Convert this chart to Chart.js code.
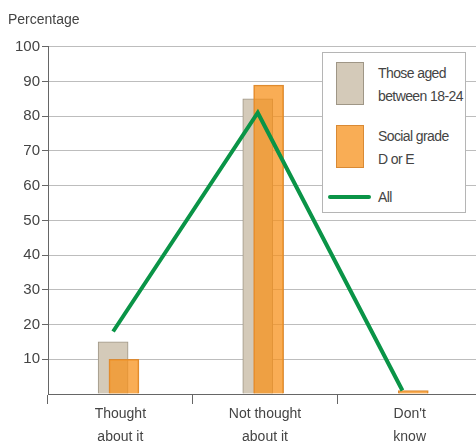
<!DOCTYPE html>
<html>
<head>
<meta charset="utf-8">
<script src="https://cdn.jsdelivr.net/npm/chart.js@4"></script>
<style>
    html, body { margin: 0; padding: 0; background: #fff; overflow: hidden; }
    #wrap { position: relative; width: 482px; height: 448px; }
    #legend {
        position: absolute; left: 322px; top: 52px; width: 144px; height: 161px;
        border: 1px solid #b5b5b5; background: #fff; box-sizing: border-box;
        font-family: 'Liberation Sans Narrow', 'Liberation Sans', sans-serif;
        font-size: 14px; color: #444; line-height: 23px; letter-spacing: -0.6px;
    }
    .item { position: absolute; left: 13px; }
    .swatch { position: absolute; left: 0; top: 0; width: 28px; height: 43px; box-sizing: border-box; }
    .txt { position: absolute; left: 42px; top: 0; white-space: nowrap; }
</style>
</head>
<body>
<div id="wrap">
    <canvas id="chart" width="482" height="448"></canvas>
    <div id="legend"></div>
</div>
<script>
'use strict';

const categories = [['Thought', 'about it'], ['Not thought', 'about it'], ['Don\'t', 'know']];
const aged1824 = [15, 85, 0];
const gradeDE = [10, 89, 1];
const allPeople = [18, 81, 1];
const yTicks = [10, 20, 30, 40, 50, 60, 70, 80, 90, 100];

const legendLabels = [['Those aged', 'between 18-24'], ['Social grade', 'D or E'], ['All']];

const FONT = "'Liberation Sans Narrow', 'Liberation Sans', sans-serif";
const grayFill = '#d4cab9', grayLine = '#9f9686';
const orangeFill = 'rgba(247,145,28,0.75)', orangeLine = '#d98a35';
const green = '#0a9447';

// small shifts so the bars overlap like the original
const shiftGray = -0.05, shiftOrange = 0.025, shiftLine = -0.05;

const toPoints = (vals, shift) => vals.map((v, i) => ({ x: i + shift, y: v }));

const ctx = document.getElementById('chart');
new Chart(ctx, {
    type: 'bar',
    data: {
        labels: categories,
        datasets: [{
            type: 'line',
            label: 'All',
            data: toPoints(allPeople, shiftLine),
            xAxisID: 'xNum',
            borderColor: green,
            borderWidth: 4,
            pointRadius: 0,
            tension: 0,
            order: 0
        }, {
            label: 'Social grade D or E',
            data: toPoints(gradeDE, shiftOrange),
            xAxisID: 'xNum',
            backgroundColor: orangeFill,
            borderColor: orangeLine,
            borderWidth: 1,
            barThickness: 30,
            grouped: false,
            order: 1
        }, {
            label: 'Those aged between 18-24',
            data: toPoints(aged1824, shiftGray),
            xAxisID: 'xNum',
            backgroundColor: grayFill,
            borderColor: grayLine,
            borderWidth: 1,
            barThickness: 30,
            grouped: false,
            order: 2
        }]
    },
    options: {
        responsive: false,
        animation: false,
        layout: { padding: { left: 8, right: 0, top: 0, bottom: 0 } },
        plugins: {
            legend: { display: false },
            tooltip: { enabled: false },
            title: {
                display: true,
                text: 'Percentage',
                align: 'start',
                color: '#444',
                font: { family: FONT, size: 14, weight: 'normal' },
                padding: { top: 12, bottom: 18 }
            }
        },
        scales: {
            x: {
                type: 'category',
                offset: true,
                grid: { display: true, drawOnChartArea: false, offset: true, tickLength: 10, color: '#666' },
                border: { color: '#666' },
                ticks: { color: '#444', font: { family: FONT, size: 14, lineHeight: '23px' }, padding: -1, maxRotation: 0 }
            },
            xNum: {
                type: 'linear',
                display: false,
                offset: false,
                min: -0.5,
                max: 2.5
            },
            y: {
                min: 0,
                max: 100,
                afterFit: (axis) => { axis.width = 40; },
                afterBuildTicks: (axis) => { axis.ticks = [0].concat(yTicks).map(v => ({ value: v })); },
                grid: { color: '#bdbdbd', tickLength: 6, tickColor: (c) => c.tick.value === 0 ? 'rgba(0,0,0,0)' : '#666' },
                border: { color: '#666' },
                ticks: {
                    color: '#444',
                    font: { family: FONT, size: 15 },
                    padding: 2,
                    callback: (v) => v === 0 ? '' : v
                }
            }
        }
    }
});

// legend built from the same labels
const legend = document.getElementById('legend');
const legendStyles = [
    { top: 9, fill: grayFill, line: grayLine },
    { top: 72, fill: '#f9ad55', line: orangeLine },
    { top: 133, green: true }
];
legendLabels.forEach((lines, i) => {
    const s = legendStyles[i];
    const item = document.createElement('div');
    item.className = 'item';
    item.style.top = s.top + 'px';
    const sw = document.createElement('div');
    sw.className = 'swatch';
    if (s.green) {
        sw.style.left = '-8px';
        sw.style.width = '43px';
        sw.style.height = '4px';
        sw.style.top = '9px';
        sw.style.background = green;
        sw.style.borderRadius = '2px';
    } else {
        sw.style.background = s.fill;
        sw.style.border = '1px solid ' + s.line;
    }
    const t = document.createElement('div');
    t.className = 'txt';
    lines.forEach((l, k) => {
        if (k) t.appendChild(document.createElement('br'));
        t.appendChild(document.createTextNode(l));
    });
    item.appendChild(sw);
    item.appendChild(t);
    legend.appendChild(item);
});
</script>
</body>
</html>
